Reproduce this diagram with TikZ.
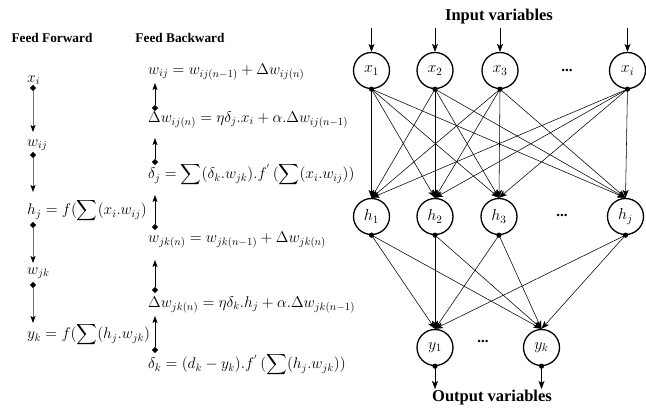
\RequirePackage{fix-cm}
\documentclass[tikz,border=0pt]{standalone}
\usepackage{exscale}
\usepackage[no-math]{fontspec}
\newfontfamily\timesb{Liberation Serif}
\usetikzlibrary{arrows.meta,shapes.geometric}
\tikzset{
 neuron/.style={circle, draw, line width=1.3pt, minimum size=36pt, inner sep=0pt, font=\fontsize{16}{18}\selectfont},
 arr/.style={-{Stealth[length=8pt,width=6pt,inset=2pt]}, line width=0.55pt},
 carr/.style={-{Stealth[length=7pt,width=5pt,inset=1.5pt]}, line width=0.6pt},
 garr/.style={-{Stealth[length=7pt,width=5pt,inset=1.5pt,black]}, draw=black!55, line width=0.7pt},
 dia/.style={diamond, fill, inner sep=0pt, minimum size=6.5pt},
 eq/.style={anchor=west, inner sep=0pt, font=\fontsize{15.5}{18}\selectfont},
 lbl/.style={font=\timesb\fontsize{13.3}{15}\selectfont\bfseries},
 biglbl/.style={font=\timesb\fontsize{16.5}{18}\selectfont\bfseries},
 ell/.style={font=\timesb\fontsize{15}{17}\selectfont\bfseries},
}
\begin{document}
\begin{tikzpicture}[x=1pt,y=-1pt]
\useasboundingbox (0,0) rectangle (646,408);
% headings
\node[lbl] (hff) at (52,38) {Feed Forward};
\node[lbl] (hfb) at (180,38) {Feed Backward};
% feed forward column
\node[eq] (f1) at (27,80) {$x_i$};
\node[eq] (f2) at (27,145) {$w_{ij}$};
\node[eq] (f3) at (27,211) {$h_j = f(\displaystyle\sum(x_i.w_{ij})$};
\node[eq] (f4) at (27,273) {$w_{jk}$};
\node[eq] (f5) at (27,335) {$y_k = f(\displaystyle\sum(h_j.w_{jk})$};
\node[dia] (fd1) at (33,88) {};
\node[dia] (fd2) at (33,155) {};
\node[dia] (fd3) at (33,225) {};
\node[dia] (fd4) at (33,285) {};
\coordinate (fe1) at (33,132);
\coordinate (fe2) at (33,192);
\coordinate (fe3) at (33,263);
\coordinate (fe4) at (33,323);
\draw[garr] (fd1) -- (fe1);
\draw[garr] (fd2) -- (fe2);
\draw[garr] (fd3) -- (fe3);
\draw[garr] (fd4) -- (fe4);
% feed backward column
\node[eq] (b1) at (148,72) {$w_{ij} = w_{ij(n-1)} + \Delta w_{ij(n)}$};
\node[eq] (b2) at (148,120) {$\Delta w_{ij(n)} = \eta\delta_j.x_i + \alpha.\Delta w_{ij(n-1)}$};
\node[eq] (b3) at (148,175) {$\delta_j = \displaystyle\sum(\delta_k.w_{jk}).f^{'}\,(\displaystyle\sum(x_i.w_{ij}))$};
\node[eq] (b4) at (148,240) {$w_{jk(n)} = w_{jk(n-1)} + \Delta w_{jk(n)}$};
\node[eq] (b5) at (148,305) {$\Delta w_{jk(n)} = \eta\delta_k.h_j + \alpha.\Delta w_{jk(n-1)}$};
\node[eq] (b6) at (148,365) {$\delta_k = (d_k - y_k).f^{'}\,(\displaystyle\sum(h_j.w_{jk}))$};
\node[dia] (bd1) at (155,108) {};
\node[dia] (bd2) at (155,162) {};
\node[dia] (bd3) at (155,227) {};
\node[dia] (bd4) at (155,290) {};
\node[dia] (bd5) at (155,350) {};
\coordinate (be1) at (155,83);
\coordinate (be2) at (155,138);
\coordinate (be3) at (155,195);
\coordinate (be4) at (155,260);
\coordinate (be5) at (155,316);
\draw[carr] (bd1) -- (be1);
\draw[carr] (bd2) -- (be2);
\draw[carr] (bd3) -- (be3);
\draw[carr] (bd4) -- (be4);
\draw[carr] (bd5) -- (be5);
% network
\node[biglbl] (inl) at (499,17) {Input variables};
\node[biglbl] (outl) at (492,398) {Output variables};
\node[neuron] (x1) at (371.5,70.5) {$x_1$};
\node[neuron] (x2) at (435,70.5) {$x_2$};
\node[neuron] (x3) at (500,70.5) {$x_3$};
\node[neuron] (xi) at (627.5,70.5) {$x_i$};
\node[ell] (xd) at (567,70) {...};
\node[neuron] (h1) at (371.5,216.5) {$h_1$};
\node[neuron] (h2) at (435,216.5) {$h_2$};
\node[neuron] (h3) at (499,216.5) {$h_3$};
\node[neuron] (hj) at (625.5,216.5) {$h_j$};
\node[ell] (hd) at (562,215) {...};
\node[neuron] (y1) at (435,347.5) {$y_1$};
\node[neuron] (yk) at (541.5,347.5) {$y_k$};
\node[ell] (yd) at (483,341) {...};
\foreach \n/\x in {x1/371.5,x2/435,x3/500,xi/627.5}{
  \coordinate (in\n) at (\x,28);
  \draw[arr] (in\n) -- (\n.north);
}
\foreach \s in {x1,x2,x3,xi}{
  \foreach \t in {h1,h2,h3,hj}{
    \draw[arr] (\s.south) -- (\t.north);
  }
}
\foreach \s in {h1,h2,h3,hj}{
  \foreach \t in {y1,yk}{
    \draw[arr] (\s.south) -- (\t.north);
  }
}
\foreach \n/\x in {y1/435,yk/541.5}{
  \coordinate (out\n) at (\x,389);
  \draw[arr] (\n.south) -- (out\n);
}
\foreach \n in {x1,x2,x3,xi,h1,h2,h3,hj,y1,yk}{
  \fill (\n.south) circle (2.6pt);
}
\end{tikzpicture}
\end{document}
